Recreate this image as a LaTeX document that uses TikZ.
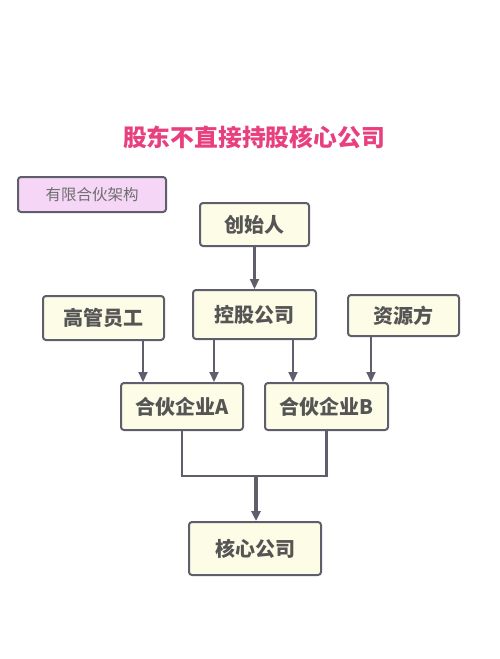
\documentclass[tikz,border=0pt]{standalone}
\usepackage{fontspec}
\setmainfont{Noto Sans CJK SC}
\usetikzlibrary{arrows.meta}
\definecolor{ttl}{HTML}{E8407F}
\definecolor{edge}{HTML}{5E5E6C}
\definecolor{cream}{HTML}{FDFCE6}
\definecolor{lpink}{HTML}{F6D6F6}
\definecolor{txt}{HTML}{555555}
\begin{document}
\begin{tikzpicture}[x=1pt,y=-1pt,
  box/.style={draw=edge,line width=2pt,fill=cream,rounded corners=3pt,inner sep=0pt,
    text=txt,font=\fontsize{20}{22}\selectfont\bfseries},
  conn/.style={draw=edge,line width=2.2pt,-{Triangle[length=10pt,width=9pt]}},
  link/.style={draw=edge,line width=2.2pt}]
\useasboundingbox (0,0) rectangle (500,659);
\node[text=ttl,font=\fontsize{23.8}{26}\selectfont\bfseries] (title) at (254,137) {股东不直接持股核心公司};
\node[box,fill=lpink,minimum width=148pt,minimum height=35pt,text=txt!85,font=\fontsize{15.5}{17}\selectfont] (legend) at (92,194.5) {有限合伙架构};
\node[box,minimum width=109pt,minimum height=43pt] (founder) at (254.5,224.5) {创始人};
\node[box,minimum width=121pt,minimum height=44pt] (exec) at (103.5,318) {高管员工};
\node[box,minimum width=123pt,minimum height=49pt] (hold) at (254.5,314.5) {控股公司};
\node[box,minimum width=111pt,minimum height=41pt] (res) at (403.5,315.5) {资源方};
\node[box,minimum width=122pt,minimum height=47pt] (pa) at (182,406.5) {合伙企业A};
\node[box,minimum width=123pt,minimum height=47pt] (pb) at (326.5,406.5) {合伙企业B};
\node[box,minimum width=132pt,minimum height=53pt] (core) at (255,548.5) {核心公司};
\coordinate (j) at (256,476);
\draw[conn] (founder.south) -- (hold.north);
\draw[conn] (exec.south -| 143,0) -- (pa.north -| 143,0);
\draw[conn] (hold.south -| 214,0) -- (pa.north -| 214,0);
\draw[conn] (hold.south -| 293,0) -- (pb.north -| 293,0);
\draw[conn] (res.south -| 371,0) -- (pb.north -| 371,0);
\draw[link] (pa.south) |- (j) -| (pb.south);
\draw[conn,line width=3.4pt] (j) -- (core.north -| j);
\end{tikzpicture}
\end{document}
